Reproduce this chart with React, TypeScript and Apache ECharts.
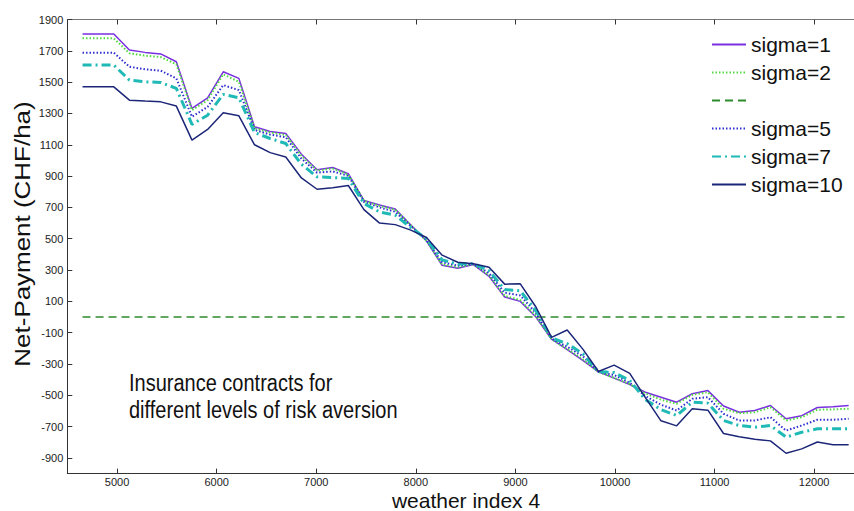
import React, { useEffect, useRef } from "react";
import * as echarts from "echarts";

// Weather index values at which the contracts are evaluated
const weatherIndex = [
  4653, 4810, 4967, 5124, 5281, 5438, 5595, 5752, 5909, 6066,
  6223, 6380, 6537, 6694, 6851, 7008, 7165, 7322, 7479, 7636,
  7793, 7950, 8107, 8264, 8421, 8578, 8735, 8892, 9049, 9206,
  9363, 9520, 9677, 9834, 9991, 10148, 10305, 10462, 10619, 10776,
  10933, 11090, 11247, 11404, 11561, 11718, 11875, 12032, 12189, 12346,
];

// Net payment (CHF/ha) for each level of risk aversion
const sigma1 = [
  1807, 1807, 1807, 1705, 1690, 1680, 1630, 1332, 1400, 1566,
  1524, 1215, 1185, 1172, 1040, 940, 955, 915, 745, 715,
  690, 588, 485, 330, 312, 335, 260, 128, 100, 0,
  -142, -208, -277, -350, -390, -432, -480, -512, -544, -490,
  -470, -568, -608, -597, -565, -650, -630, -578, -573, -565,
];
const sigma2 = [
  1780, 1780, 1780, 1684, 1669, 1660, 1614, 1321, 1385, 1550,
  1502, 1205, 1178, 1163, 1030, 935, 948, 910, 742, 710,
  685, 585, 487, 336, 318, 338, 265, 135, 108, 6,
  -141, -204, -270, -350, -388, -428, -488, -528, -554, -497,
  -480, -586, -614, -608, -576, -661, -640, -592, -590, -586,
];
const sigma5 = [
  1688, 1688, 1688, 1598, 1582, 1573, 1524, 1279, 1342, 1481,
  1449, 1195, 1165, 1148, 1012, 922, 930, 902, 735, 700,
  672, 580, 492, 350, 328, 340, 280, 155, 138, 25,
  -137, -190, -250, -350, -370, -420, -505, -560, -597, -522,
  -512, -618, -661, -661, -640, -725, -693, -656, -656, -650,
];
const sigma7 = [
  1609, 1609, 1609, 1513, 1502, 1498, 1460, 1230, 1289, 1422,
  1400, 1178, 1140, 1108, 975, 895, 891, 885, 725, 671,
  650, 571, 500, 365, 338, 342, 295, 175, 168, 40,
  -134, -170, -235, -348, -355, -405, -527, -592, -629, -544,
  -550, -661, -693, -704, -693, -767, -736, -714, -714, -714,
];
const sigma10 = [
  1470, 1470, 1470, 1385, 1379, 1374, 1347, 1130, 1198, 1304,
  1285, 1100, 1050, 1022, 888, 816, 826, 840, 686, 600,
  590, 555, 508, 395, 350, 340, 318, 210, 212, 64,
  -130, -83, -205, -348, -307, -360, -515, -663, -695, -586,
  -595, -744, -765, -780, -791, -870, -842, -798, -816, -816,
];

// Axis ticks
const yTicks = [-900, -700, -500, -300, -100, 100, 300, 500, 700, 900, 1100, 1300, 1500, 1700, 1900];
const xTicks = [5000, 6000, 7000, 8000, 9000, 10000, 11000, 12000];

const seriesNames = ["sigma=1", "sigma=2", " ", "sigma=5", "sigma=7", "sigma=10"];

const FONT = "Liberation Sans, Arial, sans-serif";

function pairs(values: number[]) {
  return weatherIndex.map((x, i) => [x, values[i]]);
}

const plain = (v: number) => String(v);

export default function App() {
  const ref = useRef<HTMLDivElement>(null);

  useEffect(() => {
    if (!ref.current) return;
    const chart = echarts.init(ref.current, undefined, { renderer: "svg" });

    const axisLineStyle = { color: "#333", width: 1 };
    const tickStyle = { show: true, inside: true, length: 5, lineStyle: { color: "#333" } };

    const line = (name: string, data: number[][], color: string, width: number, type: any) => ({
      name,
      type: "line",
      data,
      symbol: "none",
      showSymbol: false,
      silent: true,
      lineStyle: { color, width, type },
      itemStyle: { color },
      z: 2,
    });

    chart.setOption({
      animation: false,
      backgroundColor: "#ffffff",
      grid: { left: 67.3, top: 19.5, width: 792.4, height: 454.1, containLabel: false },
      xAxis: [
        {
          type: "value",
          min: 4500,
          max: 12400,
          position: "bottom",
          axisLine: { show: true, onZero: false, lineStyle: axisLineStyle },
          axisTick: { ...tickStyle, customValues: xTicks },
          axisLabel: {
            customValues: xTicks,
            formatter: plain,
            color: "#222",
            fontSize: 11,
            fontFamily: FONT,
            margin: 3,
          },
          splitLine: { show: false },
        },
        {
          type: "value",
          min: 4500,
          max: 12400,
          position: "top",
          axisLine: { show: true, onZero: false, lineStyle: { color: "#777", width: 1 } },
          axisTick: { ...tickStyle, customValues: xTicks },
          axisLabel: { show: false },
          splitLine: { show: false },
        },
      ],
      yAxis: {
        type: "value",
        min: -1000,
        max: 1900,
        axisLine: { show: true, onZero: false, lineStyle: axisLineStyle },
        axisTick: { ...tickStyle, customValues: yTicks },
        axisLabel: {
          customValues: yTicks,
          formatter: plain,
          color: "#222",
          fontSize: 11,
          fontFamily: FONT,
          margin: 4,
        },
        splitLine: { show: false },
      },
      legend: {
        data: seriesNames,
        orient: "vertical",
        left: 711,
        top: 34,
        itemWidth: 34,
        itemHeight: 14,
        itemGap: 7,
        itemStyle: { opacity: 0 },
        textStyle: { fontSize: 21, fontFamily: FONT, color: "#111", lineHeight: 21 },
        selectedMode: false,
        padding: 0,
      },
      series: [
        line("sigma=1", pairs(sigma1), "#7a2fe0", 1.5, "solid"),
        line("sigma=2", pairs(sigma2), "#4fdc3c", 2, [1.5, 2]),
        line(
          " ",
          [
            [weatherIndex[0], 0],
            [weatherIndex[weatherIndex.length - 1], 0],
          ],
          "#2d8a2d",
          1.5,
          [8, 5]
        ),
        line("sigma=5", pairs(sigma5), "#2f2fcf", 2, [1.5, 2]),
        line("sigma=7", pairs(sigma7), "#1fbab5", 3, [9, 4, 2, 4]),
        line("sigma=10", pairs(sigma10), "#1c2678", 1.5, "solid"),
      ],
      graphic: [
        {
          type: "text",
          x: 22,
          y: 234,
          rotation: Math.PI / 2,
          scaleX: 1.18,
          style: {
            text: "Net-Payment (CHF/ha)",
            fontSize: 22,
            fontFamily: FONT,
            fill: "#111",
            align: "center",
            verticalAlign: "middle",
          },
        },
        {
          type: "text",
          x: 466,
          y: 500,
          style: {
            text: "weather index 4",
            fontSize: 21,
            fontFamily: FONT,
            fill: "#111",
            align: "center",
            verticalAlign: "middle",
          },
        },
        {
          type: "text",
          x: 129,
          y: 383,
          scaleY: 1.15,
          style: {
            text: "Insurance contracts for",
            fontSize: 20,
            fontFamily: FONT,
            fill: "#111",
            align: "left",
            verticalAlign: "middle",
          },
        },
        {
          type: "text",
          x: 129,
          y: 410,
          scaleY: 1.15,
          style: {
            text: "different levels of risk aversion",
            fontSize: 20,
            fontFamily: FONT,
            fill: "#111",
            align: "left",
            verticalAlign: "middle",
          },
        },
      ],
    });

    return () => chart.dispose();
  }, []);

  return (
    <div
      ref={ref}
      style={{ position: "fixed", left: 0, top: 0, width: 854, height: 511, background: "#fff" }}
    />
  );
}
